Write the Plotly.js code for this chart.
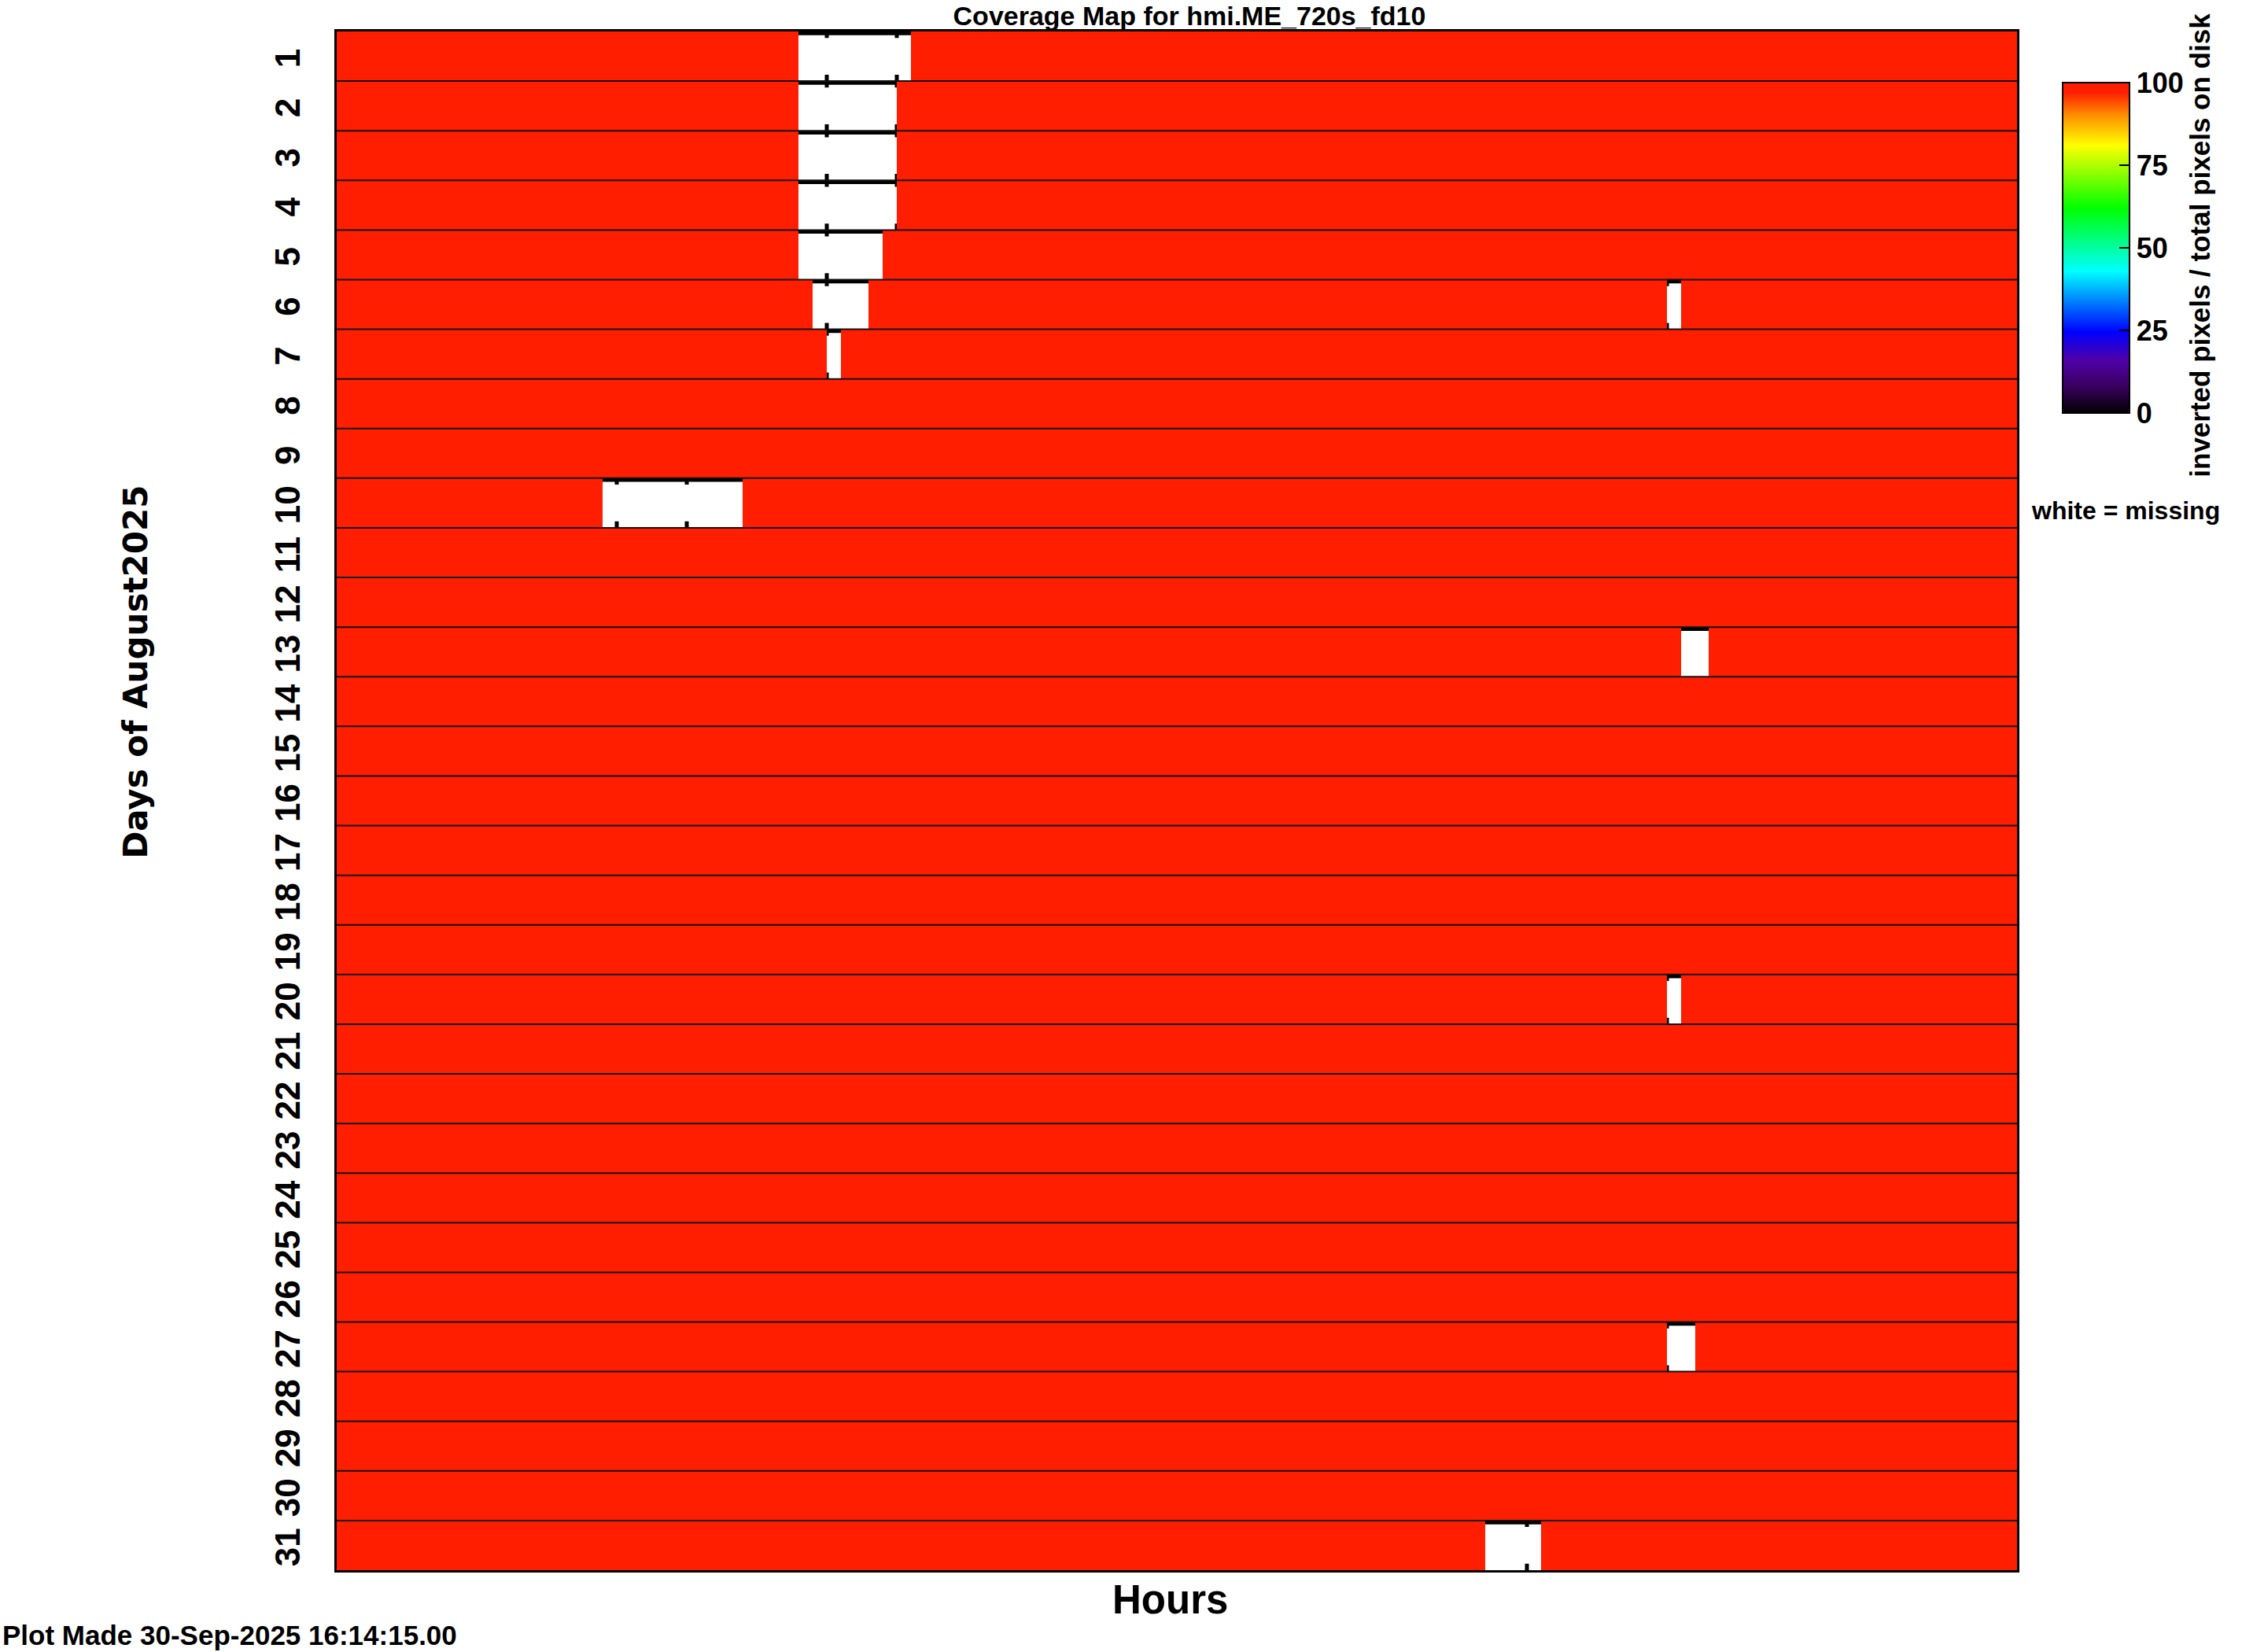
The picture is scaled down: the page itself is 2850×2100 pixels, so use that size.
<!DOCTYPE html>
<html>
<head>
<meta charset="utf-8">
<script src="https://cdn.plot.ly/plotly-3.0.1.min.js"></script>
<style>html,body{margin:0;padding:0;background:#fff;}#chart{width:2850px;height:2100px;}</style>
</head>
<body>
<div id="chart"></div>
<script>
// ---- data ----
const days = [1,2,3,4,5,6,7,8,9,10,11,12,13,14,15,16,17,18,19,20,21,22,23,24,25,26,27,28,29,30,31];
const dayLabels = ["1","2","3","4","5","6","7","8","9","10","11","12","13","14","15","16","17","18","19","20","21","22","23","24","25","26","27","28","29","30","31"];
const slotHours = 0.2;           // 720 s cadence
const slotsPerDay = 120;
// missing records (white): day, start hour, end hour
const gapDay   = [1,   2,   3,   4,   5,   6,   6,    7,   10,  13,   20,   27,   31];
const gapStart = [6.6, 6.6, 6.6, 6.6, 6.6, 6.8, 19.0, 7.0, 3.8, 19.2, 19.0, 19.0, 16.4];
const gapEnd   = [8.2, 8.0, 8.0, 8.0, 7.8, 7.6, 19.2, 7.2, 5.8, 19.6, 19.2, 19.4, 17.2];
const recordedCoverage = 100;    // inverted / total pixels on disk, percent
const cbTicks = [0, 25, 50, 75, 100];

// ---- build grid ----
const xHours = [];
for (let s = 0; s < slotsPerDay; s++) xHours.push((s + 0.5) * slotHours);
const z = days.map(d => xHours.map(h => {
  for (let g = 0; g < gapDay.length; g++) {
    if (gapDay[g] === d && h > gapStart[g] && h < gapEnd[g]) return null;
  }
  return recordedCoverage;
}));

const FONT = "Liberation Sans, Arial, Helvetica, sans-serif";

const trace = {
  type: 'heatmap',
  x: xHours, y: days, z: z,
  zmin: 0, zmax: 100,
  colorscale: [
    [0, '#000000'], [0.08, '#3a0060'], [0.16, '#5000a8'], [0.245, '#0000ff'],
    [0.43, '#00ffff'], [0.62, '#00ff00'], [0.81, '#ffff00'], [0.90, '#ff9000'],
    [0.97, '#ff1e00'], [1, '#ff1e00']
  ],
  hoverinfo: 'skip',
  colorbar: {
    x: 1.027, xanchor: 'left', xpad: 0,
    y: 0.9668, yanchor: 'top', ypad: 0,
    len: 420, lenmode: 'pixels',
    thickness: 85, thicknessmode: 'pixels',
    outlinewidth: 2, outlinecolor: '#000',
    tickmode: 'array', tickvals: cbTicks, ticktext: cbTicks.map(String),
    ticks: 'inside', ticklen: 14, tickwidth: 2, tickcolor: '#000',
    tickfont: {family: FONT, size: 36, color: '#000', weight: 'bold'}
  }
};

// axis decorations drawn below the image (visible only where records are missing)
const shapes = [];
let tickPath = '';
days.forEach(d => {
  shapes.push({type: 'rect', layer: 'below', xref: 'x', yref: 'y',
    x0: 0, x1: 24, y0: d - 0.5, y1: d - 0.5 + 0.075,
    fillcolor: '#000', line: {width: 0}});
  for (let h = 1; h < 24; h++) {
    tickPath += `M${h},${d - 0.5}L${h},${d - 0.5 + 0.13}M${h},${d + 0.5 - 0.13}L${h},${d + 0.5}`;
  }
});
shapes.push({type: 'path', layer: 'below', xref: 'x', yref: 'y', path: tickPath,
  line: {color: '#000', width: 5}});
// row separators above the image
days.slice(0, -1).forEach(d => {
  shapes.push({type: 'line', layer: 'above', xref: 'paper', yref: 'y',
    x0: 0, x1: 1, y0: d + 0.5, y1: d + 0.5, line: {color: '#111', width: 2}});
});

const layout = {
  width: 2850, height: 2100, autosize: false,
  margin: {l: 428, r: 286, t: 40, b: 104, pad: 0},
  paper_bgcolor: '#fff', plot_bgcolor: '#fff',
  showlegend: false,
  title: {
    text: 'Coverage Map for hmi.ME_720s_fd10',
    font: {family: FONT, size: 34, color: '#000', weight: 'bold'},
    xref: 'paper', x: 0.5075, xanchor: 'center',
    yref: 'container', y: 0.9905, yanchor: 'middle'
  },
  xaxis: {
    range: [0, 24], showticklabels: false, ticks: '', showgrid: false, zeroline: false,
    showline: true, mirror: true, linewidth: 3, linecolor: '#000', fixedrange: true
  },
  yaxis: {
    range: [31.5, 0.5], tickmode: 'array', tickvals: days, ticktext: dayLabels,
    tickangle: -90, ticks: '', ticklabelstandoff: 26, ticklabelshift: -9,
    tickfont: {family: FONT, size: 44, color: '#000', weight: 'bold'},
    showgrid: false, zeroline: false,
    showline: true, mirror: true, linewidth: 3, linecolor: '#000', fixedrange: true
  },
  shapes: shapes,
  annotations: [
    {text: 'Days of August2025', xref: 'paper', yref: 'paper', x: -0.1196, y: 0.5838,
     xanchor: 'center', yanchor: 'middle', textangle: -90, showarrow: false,
     font: {family: 'DejaVu Sans, ' + FONT, size: 42, color: '#000', weight: 'bold'}},
    {text: 'Hours', xref: 'paper', yref: 'paper', x: 0.496, y: -0.0194,
     xanchor: 'center', yanchor: 'middle', showarrow: false,
     font: {family: FONT, size: 51, color: '#000', weight: 'bold'}},
    {text: 'Plot Made 30-Sep-2025 16:14:15.00', xref: 'paper', yref: 'paper', x: -0.2, y: -0.0532,
     xanchor: 'left', yanchor: 'bottom', showarrow: false,
     font: {family: FONT, size: 35, color: '#000', weight: 'bold'}},
    {text: 'white = missing', xref: 'paper', yref: 'paper', x: 1.0645, y: 0.6887,
     xanchor: 'center', yanchor: 'middle', textangle: 0, showarrow: false,
     font: {family: FONT, size: 32, color: '#000', weight: 'bold'}},
    {text: 'inverted pixels / total pixels on disk', xref: 'paper', yref: 'paper', x: 1.109, y: 0.861,
     xanchor: 'center', yanchor: 'middle', textangle: -90, showarrow: false,
     font: {family: FONT, size: 35, color: '#000', weight: 'bold'}}
  ]
};

Plotly.newPlot('chart', [trace], layout, {staticPlot: true, displayModeBar: false});
</script>
</body>
</html>
